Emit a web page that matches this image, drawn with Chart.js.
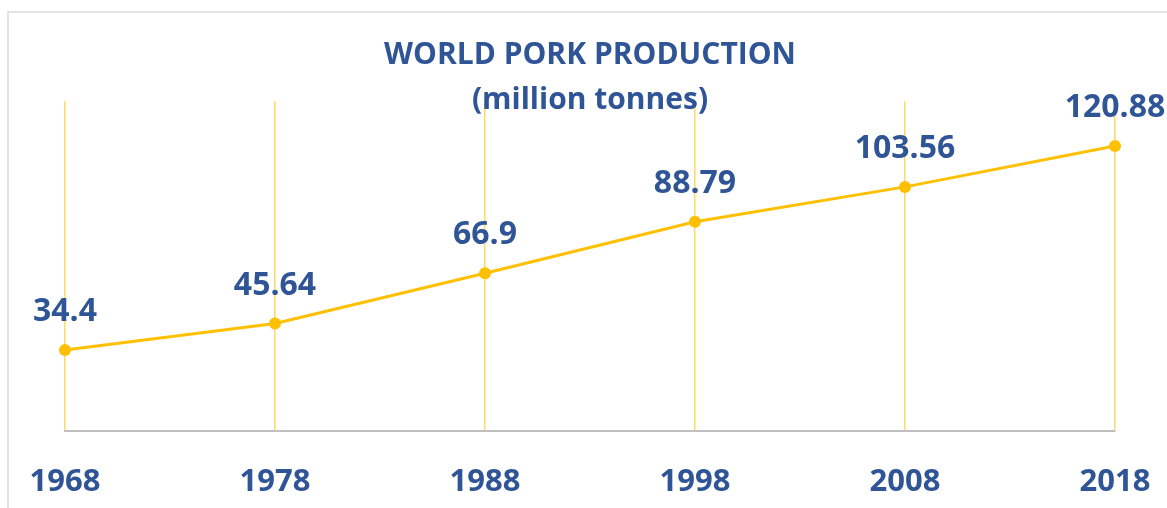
<!DOCTYPE html>
<html>
<head>
<meta charset="utf-8">
<script src="https://cdn.jsdelivr.net/npm/chart.js@4"></script>
<style>
    body { margin: 0; background: #ffffff; }
    #wrap { position: relative; width: 1167px; height: 508px; }
    #frame {
        position: absolute; left: 7px; top: 11px; right: 0; bottom: 0;
        border-left: 2px solid #e3e3e3; border-top: 2px solid #e3e3e3;
    }
    canvas { position: absolute; left: 0; top: 0; }
</style>
</head>
<body>
<div id="wrap">
    <div id="frame"></div>
    <canvas id="mainChart" width="1167" height="508"></canvas>
</div>
<script>
// World pork production, million tonnes
const years = ['1968', '1978', '1988', '1998', '2008', '2018'];
const production = [34.4, 45.64, 66.9, 88.79, 103.56, 120.88];
const titleLines = ['WORLD PORK PRODUCTION', '(million tonnes)'];

const BLUE = '#2F5597';
const GOLD = '#FFC000';
const FONT = "'Open Sans', sans-serif";

// Title drawn over the chart area (gridlines run behind the subtitle)
const titlePlugin = {
    id: 'titleOverlay',
    afterDatasetsDraw(chart) {
        const { ctx, chartArea } = chart;
        const cx = (chartArea.left + chartArea.right) / 2;
        ctx.save();
        ctx.fillStyle = BLUE;
        ctx.textAlign = 'center';
        ctx.textBaseline = 'middle';
        ctx.font = 'bold 30px ' + FONT;
        ctx.fillText(titleLines[0], cx, chartArea.top - 46);
        ctx.fillText(titleLines[1], cx, chartArea.top - 1);
        ctx.restore();
    }
};

// Value labels above each point
const valueLabels = {
    id: 'valueLabels',
    afterDatasetsDraw(chart) {
        const { ctx } = chart;
        const meta = chart.getDatasetMeta(0);
        ctx.save();
        ctx.fillStyle = BLUE;
        ctx.textAlign = 'center';
        ctx.textBaseline = 'middle';
        ctx.font = 'bold 32px ' + FONT;
        meta.data.forEach((pt, i) => {
            ctx.fillText(String(production[i]), pt.x, pt.y - 38);
        });
        ctx.restore();
    }
};

new Chart(document.getElementById('mainChart'), {
    type: 'line',
    data: {
        labels: years,
        datasets: [{
            data: production,
            borderColor: GOLD,
            backgroundColor: GOLD,
            borderWidth: 3,
            pointRadius: 6,
            pointBackgroundColor: GOLD,
            pointBorderWidth: 0,
            tension: 0,
            fill: false
        }]
    },
    options: {
        responsive: false,
        animation: false,
        layout: {
            padding: { top: 101, left: 65, right: 52, bottom: 0 }
        },
        plugins: {
            legend: { display: false },
            tooltip: { enabled: false },
            title: { display: false }
        },
        scales: {
            x: {
                offset: false,
                // invisible tick marks push the labels down without widening the side padding
                grid: {
                    color: '#FFD966',
                    lineWidth: 1.5,
                    drawTicks: true,
                    tickLength: 33,
                    tickColor: 'rgba(0,0,0,0)'
                },
                border: { display: true, color: '#BFBFBF', width: 2 },
                ticks: {
                    color: BLUE,
                    padding: 0,
                    maxRotation: 0,
                    font: { family: FONT, size: 31, weight: 'bold' }
                },
                afterFit(scale) { scale.height = 77; }
            },
            y: {
                display: false,
                min: 0,
                max: 140
            }
        }
    },
    plugins: [titlePlugin, valueLabels]
});
</script>
</body>
</html>
